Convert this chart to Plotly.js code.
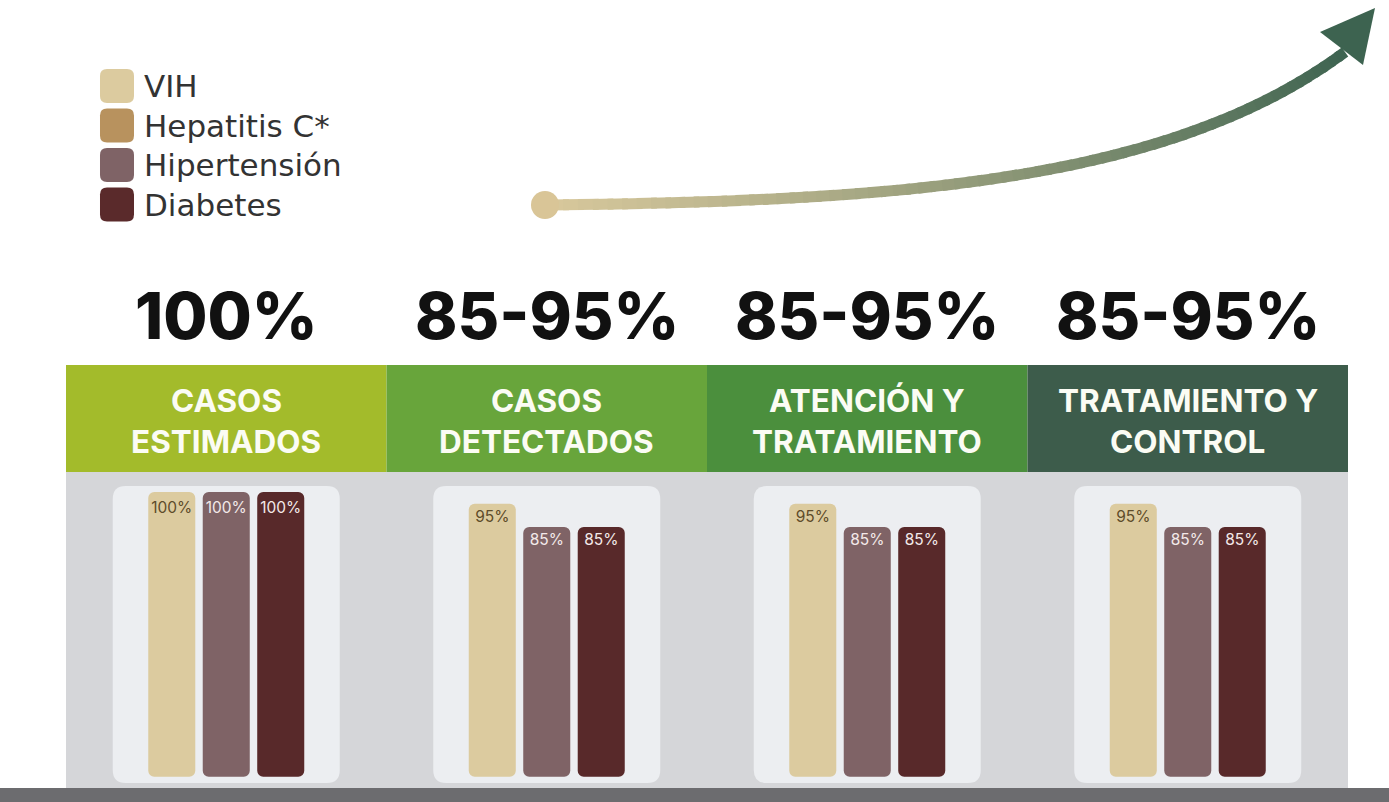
<!DOCTYPE html>
<html><head><meta charset="utf-8">
<script src="https://cdn.plot.ly/plotly-3.0.1.min.js"></script>
<style>html,body{margin:0;padding:0;background:#fff;}#chart{width:1389px;height:802px;}</style>
</head><body><div id="chart"></div>
<script>
// ---- data ----
const stages = ["CASOS<br>ESTIMADOS", "CASOS<br>DETECTADOS", "ATENCIÓN Y<br>TRATAMIENTO", "TRATAMIENTO Y<br>CONTROL"];
const stageTargets = ["100%", "85-95%", "85-95%", "85-95%"];
const legendNames = ["VIH", "Hepatitis C*", "Hipertensión", "Diabetes"];
const vih = [100, 95, 95, 95];
const hipertension = [100, 85, 85, 85];
const diabetes = [100, 85, 85, 85];

// ---- styles ----
const W = 1389, H = 802;
const legendColors = ["#dccb9f", "#b8925e", "#7f6366", "#5a2a2b"];
const bandColors = ["#a3bb2b", "#68a53b", "#4b8f3d", "#3d5c4b"];
const FONT = "Inter, 'Open Sans', Lato, sans-serif";
const BASELINE = -22; // visual baseline of the (not-to-scale) infographic
const px = x => x / W, py = y => 1 - y / H;
const idx = stages.map((_, i) => i);

function rr(x0, y0, x1, y1, r) {
  const P = (x, y) => px(x).toFixed(5) + "," + py(y).toFixed(5);
  return "M" + P(x0 + r, y0) + " L" + P(x1 - r, y0) + " Q" + P(x1, y0) + " " + P(x1, y0 + r) +
    " L" + P(x1, y1 - r) + " Q" + P(x1, y1) + " " + P(x1 - r, y1) +
    " L" + P(x0 + r, y1) + " Q" + P(x0, y1) + " " + P(x0, y1 - r) +
    " L" + P(x0, y0 + r) + " Q" + P(x0, y0) + " " + P(x0 + r, y0) + " Z";
}

const shapes = [];
const annotations = [];
// bottom strip
shapes.push({type: "rect", xref: "paper", yref: "paper", x0: 0, x1: 1, y0: py(802), y1: py(788), fillcolor: "#6c6c6f", line: {width: 0}, layer: "below"});
// gray panel
const L = 66, R = 1348, colW = (R - L) / stages.length;
shapes.push({type: "rect", xref: "paper", yref: "paper", x0: px(L), x1: px(R), y0: py(788), y1: py(472), fillcolor: "#d5d6d9", line: {width: 0}, layer: "below"});
stages.forEach((s, i) => {
  const x0 = L + colW * i, cx = x0 + colW / 2;
  shapes.push({type: "rect", xref: "paper", yref: "paper", x0: px(x0), x1: px(x0 + colW), y0: py(472), y1: py(365), fillcolor: bandColors[i], line: {width: 0}, layer: "below"});
  shapes.push({type: "path", xref: "paper", yref: "paper", path: rr(cx - 113.5, 486, cx + 113.5, 783, 13), fillcolor: "#eceef1", line: {width: 0}, layer: "below"});
  const lines = s.split("<br>");
  lines.forEach((ln, k) => {
    annotations.push({xref: "paper", yref: "paper", x: px(cx), y: py(400 + 41 * k), text: ln, showarrow: false, xanchor: "center", yanchor: "middle",
      font: {family: FONT, size: 31.5, color: "#fbfcf4", weight: 700}});
  });
  annotations.push({xref: "paper", yref: "paper", x: px(cx), y: py(315), text: stageTargets[i], showarrow: false, xanchor: "center", yanchor: "middle",
    font: {family: FONT, size: 64, color: "#111111", weight: 800}});
});
// legend
legendNames.forEach((n, i) => {
  const cy = 86 + 39.5 * i;
  shapes.push({type: "path", xref: "paper", yref: "paper", path: rr(100, cy - 17, 134, cy + 17, 7), fillcolor: legendColors[i], line: {width: 0}});
  annotations.push({xref: "paper", yref: "paper", x: px(142), y: py(cy), text: n, showarrow: false, xanchor: "left", yanchor: "middle",
    font: {family: "'DejaVu Sans', Inter, sans-serif", size: 31, color: "#333333"}});
});
// arrow (gradient curve)
const P0 = [548, 205], P1 = [900, 201], P2 = [1170, 182], P3 = [1345, 52];
const c0 = [0xd8, 0xc8, 0x9c], c1 = [0x3d, 0x63, 0x50];
const N = 70;
function bez(t) {
  const a = (1 - t) ** 3, b = 3 * (1 - t) ** 2 * t, c = 3 * (1 - t) * t * t, d = t ** 3;
  return [a * P0[0] + b * P1[0] + c * P2[0] + d * P3[0], a * P0[1] + b * P1[1] + c * P2[1] + d * P3[1]];
}
for (let k = 0; k < N; k++) {
  const t0 = k / N, t1 = Math.min(1, (k + 1.4) / N);
  const p0 = bez(t0), p1 = bez(t1);
  const f = (k + 0.5) / N;
  const col = "rgb(" + c0.map((v, j) => Math.round(v + (c1[j] - v) * f)).join(",") + ")";
  shapes.push({type: "line", xref: "paper", yref: "paper", x0: px(p0[0]), y0: py(p0[1]), x1: px(p1[0]), y1: py(p1[1]), line: {color: col, width: 11}});
}
shapes.push({type: "path", xref: "paper", yref: "paper", path: "M" + px(1375) + "," + py(8) + " L" + px(1320) + "," + py(32) + " L" + px(1363) + "," + py(65) + " Z", fillcolor: "#3d6350", line: {width: 0}});
shapes.push({type: "circle", xref: "paper", yref: "paper", x0: px(531), x1: px(559), y0: py(219), y1: py(191), fillcolor: "#d9c597", line: {width: 0}});

// ---- bars ----
function barTrace(name, vals, color, txtColor) {
  return {type: "bar", name: name, x: idx, y: vals.map(v => v - BASELINE), base: BASELINE,
    marker: {color: color, cornerradius: 6},
    text: vals.map(v => v + "%"), textposition: "inside", insidetextanchor: "end", constraintext: "none", textangle: 0,
    textfont: {family: FONT, size: 15.5, color: txtColor}, hoverinfo: "skip"};
}
const data = [
  barTrace(legendNames[0], vih, "#dccb9f", "#5e4c2a"),
  barTrace(legendNames[2], hipertension, "#7f6366", "#f3e9e9"),
  barTrace(legendNames[3], diabetes, "#58292a", "#f3e9e9")
];
const slope = 35 / 15; // px per unit
const layout = {
  width: W, height: H, margin: {l: 0, r: 0, t: 0, b: 0}, paper_bgcolor: "#ffffff", plot_bgcolor: "rgba(0,0,0,0)",
  showlegend: false, barmode: "group", bargap: 0.49, bargroupgap: 0.137,
  xaxis: {domain: [px(L), px(R)], range: [-0.5, 3.5], visible: false, fixedrange: true},
  yaxis: {domain: [py(788), py(472)], range: [100 - (788 - 492) / slope, 100 + (492 - 472) / slope], visible: false, fixedrange: true},
  shapes: shapes, annotations: annotations
};
Plotly.newPlot("chart", data, layout, {displayModeBar: false, staticPlot: true});
</script></body></html>
